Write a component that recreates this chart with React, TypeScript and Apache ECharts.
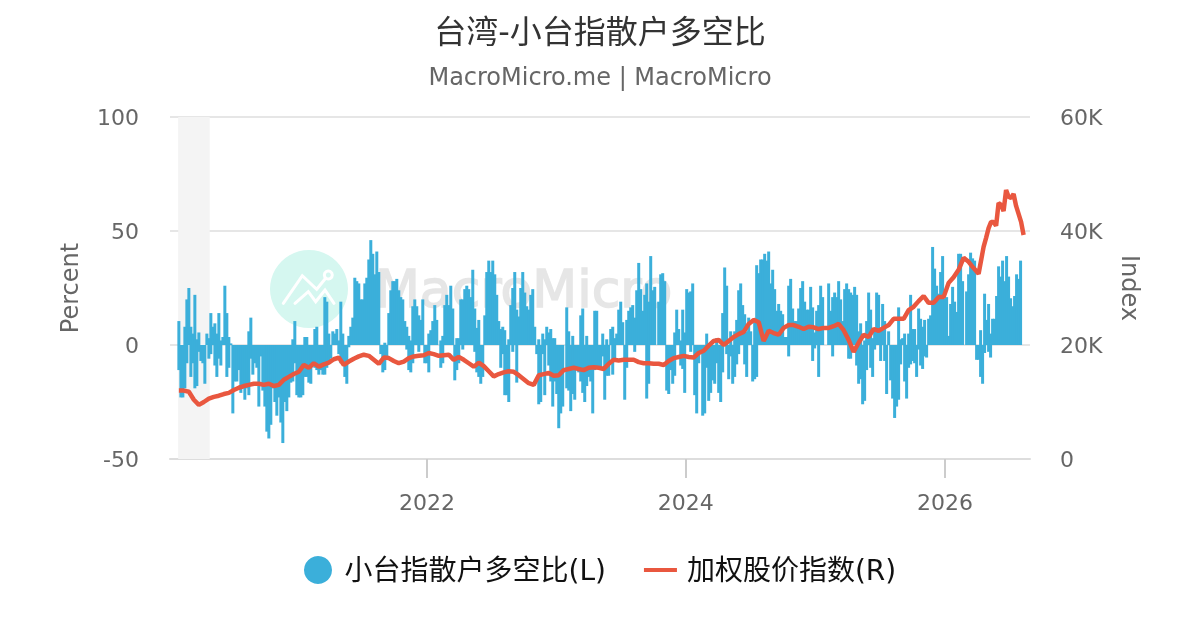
import React, { useEffect, useRef } from "react";
import * as echarts from "echarts";

const TITLE = "台湾-小台指散户多空比";
const SUBTITLE = "MacroMicro.me | MacroMicro";
const BAR_NAME = "小台指散户多空比(L)";
const LINE_NAME = "加权股价指数(R)";
const YEAR_TICKS = [2022, 2024, 2026];

// Each pair: highest and lowest reading of the ratio within one period.
const ratio2020: number[][] = [
  [10.5,-11],[0,-23],[0,-23],[8,-19],[20,-8],[25,0],[8,-14],[5,-8],[22,-19],[2.5,-18],[5.5,-3],[0,-7],[0,-8],[0,-17],[5,0],[3,-6],[14,-4],[8,0],[9.5,-9],[5,-14],[14,-6],[2,-9],[3.5,0],[26,0],[14,-14],[3.5,-10],[0.7,0],[0,-30],[0,-16],[0,-16],[0,-11],[0,-21],[0,-19],[0,-24],[0,-19],[6,-22],[12,-6],[0,-13],[0,-8],[0,-10],[0,-27],[0,-5],[0,-20],[0,-27],[0,-38],[0,-41],[0,-35],[0,-19],[0,-25],[0,-31],[0,-23],[0,-34],[0,-43],
];
const ratio2021a: number[][] = [
  [0,-25],[0,-29],[0,-23],[0,-16.5],[2.5,-16],[10.5,-8],[0,-22],[0,-23],[0,-23],[0,-22],[3.5,-14],[3.5,-14],[0,-16.5],[0,-17],[0,-8],[7,-10],[8,-11],[0,-13],[0,-11],[0,-13],[21,-13],[19,-10],[5,-8],[0,-6],[6,0],[5,0],[7,0],[2,-4],[19,-8],[5,-8],[0,-14],[0,-17],[4,-1],[8,0],[12,0],[29.5,0],[28,0],[27,0],[20,0],[20,0],[27,0],[29.5,0],[37.5,0],[46,0],[40,0],[31,0],[41,0],[32,0],[0,-4],[0,-12],[1,-11],[0,-6],
];
const ratio2021b: number[][] = [
  [14,0],[24,0],[28,0],[28,0],[29,0],[24,0],[21,0],[20,0],[10.5,0],[8,-2],[4,-11],[2,-12],[17,-8],[20,0],[17,0],[13,-3],[11,0],[20,0],[0,-8],[0,-8],[5,-12],[6.5,0],[10.5,0],[17.5,0],[11,0],[0,0],[2,-10],[4,-8],[17.5,0],[22,0],[17.5,0],[26,0],[16,0],[0,-15.5],[3,-11],[3,-8],[20,0],[20,-2],[24.5,0],[26,0],[24.5,0],[21,0],[33,0],[16,-3],[7.5,-12],[11,-14],[0,-17],[0,-14],[13,0],[32,0],[37,0],[32,0],[37,0],
];
const ratio2022: number[][] = [
  [31,0],[22,0],[10.5,0],[7,-10],[8,-4],[6.5,-22],[0,-22],[2.5,-25],[17.5,0],[25,-3],[32,0],[15.5,-16.5],[12.5,0],[25,0],[32,0],[23,0],[17,0],[15.5,0],[22,0],[24.5,0],[8,0],[0,-4],[2.5,-26],[0,-25],[5,-4],[2.5,-22],[8,0],[5.5,-9],[7,-16],[3,-27],[3,-16],[0,-21.5],[0,-36.5],[0,-30],[0,-27],[0,0],[16.5,-19],[6,-20],[0,-29],[4,-21.5],[0,-24],[0,-11],[0,-12],[13,-16],[16,-21],[0,-25],[4,-18],[0,-14],[0,-16],[0,-30],[15,-11],[15,-10],
];
const ratio2023a: number[][] = [
  [0,-10],[0,-10.5],[5,-5],[0,-24],[2.5,-13.5],[0,-13.5],[7,0],[8,-13],[3,-6],[5,0],[15.5,0],[19,0],[10,0],[0,-24],[11,-10],[15,0],[16.5,0],[17.5,0],[12,-3],[24,0],[36,0],[24.5,0],[15,0],[22,0],[27,-23.5],[19,-17],[39,0],[24,0],[25.5,0],[0,0],[19,0],[31,0],[31.5,0],[28,0],[0,-20],[0,-21.5],[0,-11],[0,-17],[5.5,-13.5],[15.5,0],[7,0],[2,-9],[15.5,-10.5],[5.5,-21],[24.5,0],[23,0],[23.5,-3],[27,0],[0,-22],[0,-30],[0,-8],[0,-3],[0,-31],
];
const ratio2024a: number[][] = [
  [0,-30],[5,-10],[0,-24.5],[0,-21],[0,-15.5],[0,-17],[3,-8],[0,-21],[0,-25],[14,-12],[34,0],[26,-4],[0,-15],[6,-5],[0,-17],[6,-14],[11,-8.5],[24,-4],[27,0],[17.5,0],[13.5,-8.5],[6,-14],[12,0],[6,0],[0,-16],[10,-15],[35,-14],[31.5,0],[37.5,0],[37.5,0],[40,0],[37,0],[41,0],[27,0],[33,0],[24.5,0],[15,0],[18,0],[15,0],[13.5,0],[3.5,0],[3.5,0],[26,-5],[29,0],[16,0],[10.5,0],[10.5,0],[16,0],[25,0],[28,0],[19,0],[15.5,0],
];
const ratio2024b: number[][] = [
  [15.5,0],[25.5,0],[16.5,-7],[5.5,-1.5],[15,0],[17.5,-14],[26,0],[21,0],[0,0],[0,0],[27,0],[15,0],[21,-5],[23,0],[21,0],[28,0],[20,0],[10.5,0],[24.5,0],[27,0],[24.5,-6],[23,-6],[22,0],[25.5,0],[22,-9],[6,-17],[9.5,-15],[0,-26],[2,-24.5],[10.5,-11],[23,0],[15.5,-10],[3,-14],[7,-2],[23,0],[22,0],[7.5,-7],[18,0],[10.5,-7],[0,-21.5],[6,0],[0,-15.5],[0,-23.5],[0,-32],[0,-27],[16.5,-24],[2.5,-8.5],[3,0],[5,-16],[0,-23.5],[5,-10],[22,-8.5],[7,-7],
];
const ratio2025: number[][] = [
  [7,-8],[0,-14],[16,-2],[11.5,-9],[8,-10.5],[11,-5],[0,-5.5],[11.5,0],[13,0],[43,0],[33.5,0],[26,0],[22.5,0],[32,0],[39,0],[20.5,0],[21,0],[4,0],[18,0],[25.5,0],[19,0],[14.5,0],[40,0],[40,0],[28,0],[0,0],[23.5,0],[31,0],[40.5,0],[38,0],[37,0],[0,-6.5],[0,-6.5],[6.5,-14],[0,-17],[22.5,-3.5],[11,0],[18,-3],[5,-5.5],[11.5,0],[11.5,0],[21.5,0],[34.5,0],[30,0],[37,0],[28,0],[39,0],[30,0],[20.5,0],[17,0],[21.5,0],[31,0],[29,0],[37,0],
];
const ratioColumns = [...ratio2020, ...ratio2021a, ...ratio2021b, ...ratio2022, ...ratio2023a, ...ratio2024a, ...ratio2024b, ...ratio2025];

const indexEarly = [
  12000,12000,11800,10400,9500,10000,10600,10900,11100,11400,11600,12100,12500,12800,13000,13200,13200,13000,13200,12800,13000,13900,14400,14900,15300,16500,16000,16800,16200,16600,16900,17500,17800,16500,17100,17600,18000,18300,18100,17400,16700,17800,17700,17200,16800,17100,17700,18000,18100,18200,18600,18400,18100,18200,18300,17400,17900,
];
const indexMiddle = [
  17400,16800,16200,16900,16300,15400,14500,14900,15200,15400,15300,14700,14000,13300,13000,14700,14900,15100,14600,14700,15600,15800,16000,15800,15600,16000,16100,16000,15800,16700,17400,17300,17400,17400,17400,17000,16800,16800,16700,16700,16500,17200,17700,17900,18100,17900,17800,18600,19000,19900,20700,20900,20000,20700,21400,21900,
];
const indexLate = [
  22300,23700,24400,24000,20700,22500,22100,21800,23000,23500,23500,23200,22800,23200,23100,22800,23000,23000,23300,23700,22600,20900,18800,20400,21800,21400,22800,22500,23000,23500,24600,24600,24600,26100,26700,27700,28600,27400,27400,28400,28400,30900,31900,33200,35300,34600,33500,32500,
];
// Read at twice the frequency, where the series moves the most.
const indexFinal = [
  37200,38800,40500,41600,41600,40900,44900,44600,43500,47200,46000,45800,46500,44400,43000,41600,39300,
];
const indexValues = [...indexEarly, ...indexMiddle, ...indexLate];

const FONT = '"DejaVu Sans", "Noto Sans CJK SC", sans-serif';
const DAY = 86400000;
const START = Date.UTC(2020, 1, 1);
const COLUMN_DAYS = 5.64;
const INDEX_DAYS = 14.1;

echarts.graphic.registerShape("mmLineA", echarts.graphic.extendPath("M283.3 303.3L302.3 275.7L316.7 289.3L325 279", {}));
echarts.graphic.registerShape("mmLineB", echarts.graphic.extendPath("M295 303.3L308.3 291.7L315.7 301.7L325 290L334 303.3", {}));

export default function App() {
  const ref = useRef<HTMLDivElement>(null);
  useEffect(() => {
    const chart = echarts.init(ref.current!, undefined, { renderer: "svg" });
    const barData: number[][] = [];
    ratioColumns.forEach(([hi, lo], i) => {
      const t = START + i * COLUMN_DAYS * DAY;
      if (hi !== 0) barData.push([t, hi]);
      if (lo !== 0) barData.push([t, lo]);
    });
    const lineData = indexValues.map((v, i) => [START + i * INDEX_DAYS * DAY, v]);
    indexFinal.forEach((v, i) => {
      lineData.push([START + (indexValues.length + i / 2) * INDEX_DAYS * DAY, v]);
    });
    const yearTs = YEAR_TICKS.map((y) => Date.UTC(y, 0, 1));
    chart.setOption({
      animation: false,
      textStyle: { fontFamily: FONT },
      title: {
        text: TITLE,
        subtext: SUBTITLE,
        left: "center",
        top: 11,
        itemGap: 17,
        textStyle: { fontFamily: FONT, fontSize: 32, fontWeight: "normal", color: "#333333" },
        subtextStyle: { fontFamily: FONT, fontSize: 24, color: "#666666" },
      },
      graphic: [
        { type: "circle", z: 0, shape: { cx: 309, cy: 289, r: 39 }, style: { fill: "#d5f7f0" } },
        { type: "mmLineA", z: 0, style: { fill: "none", stroke: "#ffffff", lineWidth: 3, lineCap: "round" } },
        { type: "mmLineB", z: 0, style: { fill: "none", stroke: "#ffffff", lineWidth: 3, lineCap: "round" } },
        { type: "circle", z: 0, shape: { cx: 328.3, cy: 275, r: 4 }, style: { fill: "none", stroke: "#ffffff", lineWidth: 3 } },
        { type: "text", z: 0, x: 375, y: 263, style: { text: "MacroMicro", fontFamily: FONT, fontSize: 52, fill: "#e6e6e6", stroke: "#e6e6e6", lineWidth: 1.5 } },
      ],
      legend: {
        left: 299,
        top: 551,
        itemGap: 38,
        itemWidth: 33,
        itemHeight: 28,
        textStyle: { fontFamily: FONT, fontSize: 28, color: "#111111", padding: [0, 0, 0, 5] },
        data: [
          { name: BAR_NAME, icon: "circle" },
          { name: LINE_NAME, icon: "path://M0,0H33V4H0Z" },
        ],
      },
      grid: { left: 170, right: 170, top: 117, bottom: 171 },
      xAxis: {
        type: "value",
        min: Date.UTC(2020, 0, 7),
        max: Date.UTC(2026, 7, 29),
        axisLine: { onZero: false, lineStyle: { color: "#dddddd", width: 2 } },
        axisTick: { customValues: yearTs, length: 19, lineStyle: { color: "#cccccc", width: 2 } },
        axisLabel: {
          customValues: yearTs,
          margin: 32,
          fontSize: 22,
          color: "#666666",
          fontFamily: FONT,
          formatter: (v: number) => String(new Date(v).getUTCFullYear()),
        },
        splitLine: { show: false },
      },
      yAxis: [
        {
          type: "value",
          min: -50,
          max: 100,
          interval: 50,
          name: "Percent",
          nameLocation: "middle",
          nameGap: 88,
          nameTextStyle: { fontSize: 24, color: "#666666", fontFamily: FONT },
          axisLabel: { margin: 31, fontSize: 22, color: "#666666", fontFamily: FONT, padding: [2, 0, 0, 0] },
          axisLine: { show: false },
          axisTick: { show: false },
          splitLine: { lineStyle: { color: "#e6e6e6", width: 2 } },
        },
        {
          type: "value",
          min: 0,
          max: 60000,
          interval: 20000,
          position: "right",
          name: "Index",
          nameLocation: "middle",
          nameRotate: -90,
          nameGap: 88,
          nameTextStyle: { fontSize: 24, color: "#666666", fontFamily: FONT },
          axisLabel: {
            margin: 30,
            fontSize: 22,
            color: "#666666",
            fontFamily: FONT,
            padding: [2, 0, 0, 0],
            formatter: (v: number) => (v === 0 ? "0" : `${v / 1000}K`),
          },
          axisLine: { show: false },
          axisTick: { show: false },
          splitLine: { show: false },
        },
      ],
      series: [
        {
          name: BAR_NAME,
          type: "bar",
          yAxisIndex: 0,
          barWidth: 3,
          data: barData,
          itemStyle: { color: "#3bafda" },
          markArea: {
            silent: true,
            itemStyle: { color: "#f4f4f4" },
            data: [[{ xAxis: Date.UTC(2020, 0, 30) }, { xAxis: Date.UTC(2020, 3, 28) }]],
          },
        },
        {
          name: LINE_NAME,
          type: "line",
          yAxisIndex: 1,
          data: lineData,
          showSymbol: false,
          lineStyle: { color: "#e9573f", width: 4.5, join: "bevel" },
          itemStyle: { color: "#e9573f" },
        },
      ],
    });
    return () => chart.dispose();
  }, []);
  return <div ref={ref} style={{ position: "fixed", left: 0, top: 0, width: 1200, height: 630 }} />;
}
